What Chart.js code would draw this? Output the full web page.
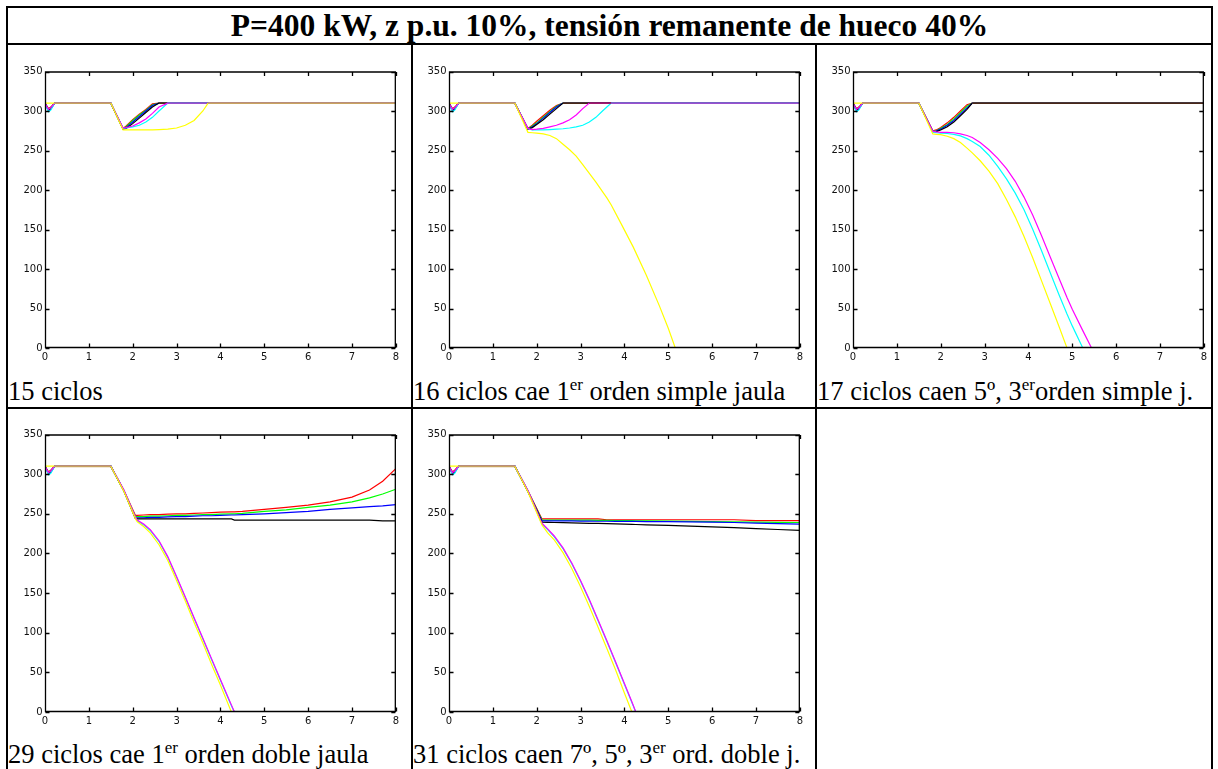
<!DOCTYPE html>
<html><head><meta charset="utf-8">
<script src="https://cdn.jsdelivr.net/npm/chart.js@4.4.0/dist/chart.umd.min.js"></script>
<style>
html,body{margin:0;padding:0;background:#fff;}
body{width:1218px;height:769px;overflow:hidden;position:relative;}
.ln{position:absolute;background:#000;}
.cap{position:absolute;font-family:"Liberation Serif","Times New Roman",serif;font-size:26.5px;line-height:26.5px;white-space:nowrap;color:#000;}
.cap .sp{font-size:17px;position:relative;top:-10px;}
#title{position:absolute;left:8px;width:1203px;text-align:center;top:10px;font-family:"Liberation Serif","Times New Roman",serif;font-weight:bold;font-size:31.5px;line-height:31.5px;white-space:nowrap;color:#000;}
canvas{position:absolute;}
</style></head><body>
<div id="title">P=400 kW, z p.u. 10%, tensión remanente de hueco 40%</div>
<div class="ln" style="left:6px;top:6px;width:1207px;height:2px"></div>
<div class="ln" style="left:6px;top:43px;width:1207px;height:2px"></div>
<div class="ln" style="left:6px;top:407px;width:1207px;height:2px"></div>
<div class="ln" style="left:6px;top:6px;width:2px;height:770px"></div>
<div class="ln" style="left:411px;top:43px;width:2px;height:730px"></div>
<div class="ln" style="left:815px;top:43px;width:2px;height:730px"></div>
<div class="ln" style="left:1211px;top:6px;width:2px;height:770px"></div>
<div class="cap" style="left:8px;top:378px">15 ciclos</div>
<div class="cap" style="left:413px;top:378px">16 ciclos cae 1<span class="sp">er</span> orden simple jaula</div>
<div class="cap" style="left:817px;top:378px">17 ciclos caen 5º, 3<span class="sp">er</span>orden simple j.</div>
<div class="cap" style="left:8px;top:741px">29 ciclos cae 1<span class="sp">er</span> orden doble jaula</div>
<div class="cap" style="left:413px;top:741px">31 ciclos caen 7º, 5º, 3<span class="sp">er</span> ord. doble j.</div>
<script>
// ---------- DATA (time in s, voltage) ----------
const xTicks = [0,1,2,3,4,5,6,7,8];
const yTicks = [0,50,100,150,200,250,300,350];

// Chart 1: 15 ciclos
const t1 = [0,0.08,0.13,0.22,1.5,1.78,1.85,2.0,2.15,2.3,2.45,2.6,2.8,3.0,3.2,3.4,3.6,3.72,8];
const c1_r = [310,303,305,310,310,278,281,289,296,302,309,310,310,310,310,310,310,310,310];
const c1_g = [310,302,304,310,310,277.5,280,288,295,301,308,310,310,310,310,310,310,310,310];
const c1_b = [310,300,302,310,310,277,279,286,293,300,307,310,310,310,310,310,310,310,310];
const c1_k = [310,301,303,310,310,277,278,284,291,298,305,310,310,310,310,310,310,310,310];
const c1_c = [310,299,301,310,310,278,278.5,280,282,286,292,300,310,310,310,310,310,310,310];
const c1_m = [310,302,304,310,310,278.5,279,281,285,290,297,305,310,310,310,310,310,310,310];
const c1_y = [310,310,310,310,310,276,276,276,276,276,276,276.5,277,278.5,282,288,300,310,310];

// Chart 2: 16 ciclos
const t2 = [0,0.08,0.13,0.22,1.5,1.8,1.9,2.0,2.15,2.3,2.45,2.6,2.75,2.9,3.05,3.2,3.35,3.5,3.6,3.7,3.9,4.2,4.5,4.8,5.0,5.16,8];
const c2_r = [310,303,305,310,310,278,282,287,294,301,307,310,310,310,310,310,310,310,310,310,310,310,310,310,310,310,310];
const c2_g = [310,302,304,310,310,277.5,281,285,292,299,306,310,310,310,310,310,310,310,310,310,310,310,310,310,310,310,310];
const c2_b = [310,300,302,310,310,277,280,284,291,298,305,310,310,310,310,310,310,310,310,310,310,310,310,310,310,310,310];
const c2_k = [310,301,303,310,310,277,279,283,289,296,303,310,310,310,310,310,310,310,310,310,310,310,310,310,310,310,310];
const c2_c = [310,299,301,310,310,277.5,276,276,276,276.5,277,277.5,278.5,280,282,286,292,300,305,310,310,310,310,310,310,310,310];
const c2_m = [310,302,304,310,310,278,276.5,277,278,280,282,285,289,295,303,310,310,310,310,310,310,310,310,310,310,310,310];
const c2_y = [310,310,310,310,310,273,272.5,272,271,269,265,258,251,243,232,221,210,198,190,181,160,128,92,53,25,0,null];

// Chart 3: 17 ciclos
const t3 = [0,0.08,0.13,0.22,1.5,1.82,1.9,2.0,2.15,2.3,2.45,2.6,2.72,2.9,3.1,3.3,3.5,3.7,3.9,4.1,4.3,4.5,4.7,4.88,5.0,5.24,5.44,8];
const c3_r = [310,303,305,310,310,275,276,279,285,292,300,308,310,310,310,310,310,310,310,310,310,310,310,310,310,310,310,310];
const c3_g = [310,302,304,310,310,274.5,275,278,283,290,298,306,310,310,310,310,310,310,310,310,310,310,310,310,310,310,310,310];
const c3_b = [310,300,302,310,310,274,274.5,277,282,288,296,304,310,310,310,310,310,310,310,310,310,310,310,310,310,310,310,310];
const c3_k = [310,301,303,310,310,274,274,276,280,286,294,302,310,310,310,310,310,310,310,310,310,310,310,310,310,310,310,310];
const c3_c = [310,299,301,310,310,273.5,272.5,272,271.5,270.5,268.5,265,261.5,255,244,230,214,196,175,150,123,95,67,43,28,0,null,null];
const c3_m = [310,302,304,310,310,274.5,273.5,273,273,272.5,271,269,266.5,260,251,240,227,211,191,168,142,115,88,64,49,22,0,null];
const c3_y = [310,310,310,310,310,271,270.5,270,268,265,260,253,247,237,224,208,188,166,141,114,85,56,27,0,null,null,null,null];

// Chart 4: 29 ciclos
const t4 = [0,0.08,0.13,0.22,1.5,1.8,2.06,2.1,2.25,2.4,2.6,2.8,3.0,3.2,3.4,3.6,3.8,4.0,4.25,4.32,4.5,5.0,5.5,6.0,6.5,7.0,7.4,7.7,8];
const c4_r = [310,303,305,310,310,279.5,248,248,248.5,249,249,249.5,250,250,250.5,251,251.5,252,252.5,252.5,253,255.5,258,261,265,271,280,291,307];
const c4_g = [310,302,304,310,310,279,246.5,246.5,246.5,247,247,247.5,248,248,248.5,249,249,249.5,250,250,250.5,253,255,258,261,265,270,275,281];
const c4_b = [310,300,302,310,310,279,245,245,245,245.5,245.5,246,246.5,246.5,247,247.5,247.5,248,248.5,248.5,249,250,251.5,253,255.5,257.5,259,260,261.5];
const c4_k = [310,301,303,310,310,278.5,244,243.5,243.5,243.5,243.5,243.5,243.5,243.5,243.5,243.5,243.5,243.5,243.5,242,242,242,242,242,242,242,242,241,241];
const c4_c = [310,299,301,310,310,279.5,245.5,241.5,236,229,215,195,170,144,118,92,66,40,8,0,null,null,null,null,null,null,null,null,null];
const c4_m = [310,302,304,310,310,280,246,242,237,230,216,196,171,145,119,93,67,41,9,0,null,null,null,null,null,null,null,null,null];
const c4_y = [310,310,310,310,310,278,244,240,234,226,211,191,166,140,113,87,60,34,0,null,null,null,null,null,null,null,null,null,null];

// Chart 5: 31 ciclos
const t5 = [0,0.08,0.13,0.22,1.5,1.8,2.12,2.25,2.4,2.6,2.8,3.0,3.2,3.4,3.6,3.8,4.0,4.17,4.26,4.5,5.0,5.5,6.0,6.5,7.0,7.5,8];
const c5_r = [310,303,305,310,310,279,243.5,243.5,243.5,243.5,243.5,243.5,243.5,243.5,242.5,242.5,242.5,242.5,242.5,242.5,242.5,242.5,242.5,242.5,241.5,241.5,241.5];
const c5_g = [310,302,304,310,310,278.5,242,242,242,242,242,242,242,241.8,241.6,241.5,241.4,241.3,241.2,241,240.8,240.5,240.2,239.8,239.5,239.2,239];
const c5_b = [310,300,302,310,310,278,241,241,241,241,241,240.8,240.8,240.6,240.6,240.5,240.5,240.4,240.4,240.2,240,239.8,239.5,239,238.3,237.7,237];
const c5_k = [310,301,303,310,310,278,239.5,239.2,239,238.8,238.5,238.3,238,237.8,237.5,237.2,237,236.7,236.5,236,235.3,234.5,233.5,232.5,231.3,230.2,229];
const c5_c = [310,299,301,310,310,279,237,230,221,206,187,165,141,115,89,62,35,12,0,null,null,null,null,null,null,null,null];
const c5_m = [310,302,304,310,310,279.5,238,231,222,207,188,166,142,116,90,63,36,13,0,null,null,null,null,null,null,null,null];
const c5_y = [310,310,310,310,310,277.5,236,226,217,201,181,158,133,107,80,53,24,0,null,null,null,null,null,null,null,null,null];

// ---------- STYLE ----------
const ORDER = ['y','m','c','k','b','g','r']; // first = drawn on top
const COLORS = {r:'#ff0000',g:'#00ff00',b:'#0000ff',k:'#000000',c:'#00ffff',m:'#ff00ff',y:'#ffff00'};

function blendColor(keys){
  const has = k => keys.includes(k);
  if (has('y') && keys.length >= 5) return '#c9a35f';
  if (!has('y') && has('c') && has('m')) return '#9b4fcf';
  if (!has('y') && has('m')) return '#a3176f';
  if (!has('y') && has('c')) return '#2a8a8a';
  return '#4a2818';
}
function segInfo(list, di, i0, i1, own){
  const me = list[di];
  const same = [];
  for (let k = 0; k < list.length; k++){
    const s = list[k];
    if (s[i0] != null && s[i1] != null && me[i0] != null && me[i1] != null &&
        Math.abs(s[i0]-me[i0]) < 0.01 && Math.abs(s[i1]-me[i1]) < 0.01) same.push(k);
  }
  if (same.length >= 3 && same[0] === di) {
    return {color: blendColor(same.map(k => ORDER[k])), width: 1.9};
  }
  return {color: own, width: 1.2};
}

const boxPlugin = {
  id: 'matlabBox',
  afterDatasetsDraw(chart){
    const {ctx, chartArea: a, scales: {x, y}} = chart;
    ctx.save();
    ctx.strokeStyle = '#000';
    ctx.lineWidth = 1.3;
    const L = a.left + 0.5, R = a.right - 0.5, T = a.top + 0.5, B = a.bottom - 0.5;
    ctx.beginPath();
    ctx.rect(L, T, R - L, B - T);
    x.ticks.forEach(tk => {
      const p = Math.round(x.getPixelForValue(tk.value)) + 0.5;
      ctx.moveTo(p, B); ctx.lineTo(p, B - 4);
      ctx.moveTo(p, T); ctx.lineTo(p, T + 4);
    });
    y.ticks.forEach(tk => {
      const p = Math.round(y.getPixelForValue(tk.value)) + 0.5;
      ctx.moveTo(L, p); ctx.lineTo(L + 4, p);
      ctx.moveTo(R, p); ctx.lineTo(R - 4, p);
    });
    ctx.stroke();
    ctx.restore();
  }
};

const tickFont = {family: 'DejaVu Sans', size: 10};

function makeChart(area, t, series){
  const [L, T, W, H] = area;
  const cv = document.createElement('canvas');
  const cw = 40 + W + 6, ch = 8 + H + 22;
  cv.width = cw; cv.height = ch;
  cv.style.left = (L - 40) + 'px';
  cv.style.top = (T - 8) + 'px';
  cv.style.width = cw + 'px';
  cv.style.height = ch + 'px';
  document.body.appendChild(cv);
  const list = ORDER.map(k => series[k]);
  const datasets = ORDER.map((k, di) => ({
    data: t.map((xv, i) => ({x: xv, y: list[di][i]})),
    borderColor: COLORS[k],
    borderWidth: 1.2,
    pointRadius: 0,
    fill: false,
    spanGaps: false,
    tension: 0,
    segment: {
      borderColor: c => segInfo(list, di, c.p0DataIndex, c.p1DataIndex, COLORS[k]).color,
      borderWidth: c => segInfo(list, di, c.p0DataIndex, c.p1DataIndex, COLORS[k]).width
    }
  }));
  new Chart(cv, {
    type: 'line',
    data: {datasets},
    options: {
      responsive: false,
      animation: false,
      events: [],
      devicePixelRatio: 1,
      layout: {padding: {left: 0, top: 8, right: 6, bottom: 0}},
      plugins: {legend: {display: false}, tooltip: {enabled: false}},
      scales: {
        x: {
          type: 'linear', min: 0, max: 8,
          afterBuildTicks: s => { s.ticks = xTicks.map(v => ({value: v})); },
          ticks: {font: tickFont, color: '#111', padding: 3, maxRotation: 0, autoSkip: false},
          grid: {display: false, drawTicks: false},
          border: {display: false},
          afterFit: s => { s.height = 22; }
        },
        y: {
          type: 'linear', min: 0, max: 350,
          afterBuildTicks: s => { s.ticks = yTicks.map(v => ({value: v})); },
          ticks: {font: tickFont, color: '#111', padding: 2.5},
          grid: {display: false, drawTicks: false},
          border: {display: false},
          afterFit: s => { s.width = 40; }
        }
      }
    },
    plugins: [boxPlugin]
  });
}

makeChart([45, 71, 351, 277], t1, {r:c1_r,g:c1_g,b:c1_b,k:c1_k,c:c1_c,m:c1_m,y:c1_y});
makeChart([449, 71, 351, 277], t2, {r:c2_r,g:c2_g,b:c2_b,k:c2_k,c:c2_c,m:c2_m,y:c2_y});
makeChart([853, 71, 351, 277], t3, {r:c3_r,g:c3_g,b:c3_b,k:c3_k,c:c3_c,m:c3_m,y:c3_y});
makeChart([45, 434, 351, 278], t4, {r:c4_r,g:c4_g,b:c4_b,k:c4_k,c:c4_c,m:c4_m,y:c4_y});
makeChart([449, 434, 351, 278], t5, {r:c5_r,g:c5_g,b:c5_b,k:c5_k,c:c5_c,m:c5_m,y:c5_y});
</script>
</body></html>
